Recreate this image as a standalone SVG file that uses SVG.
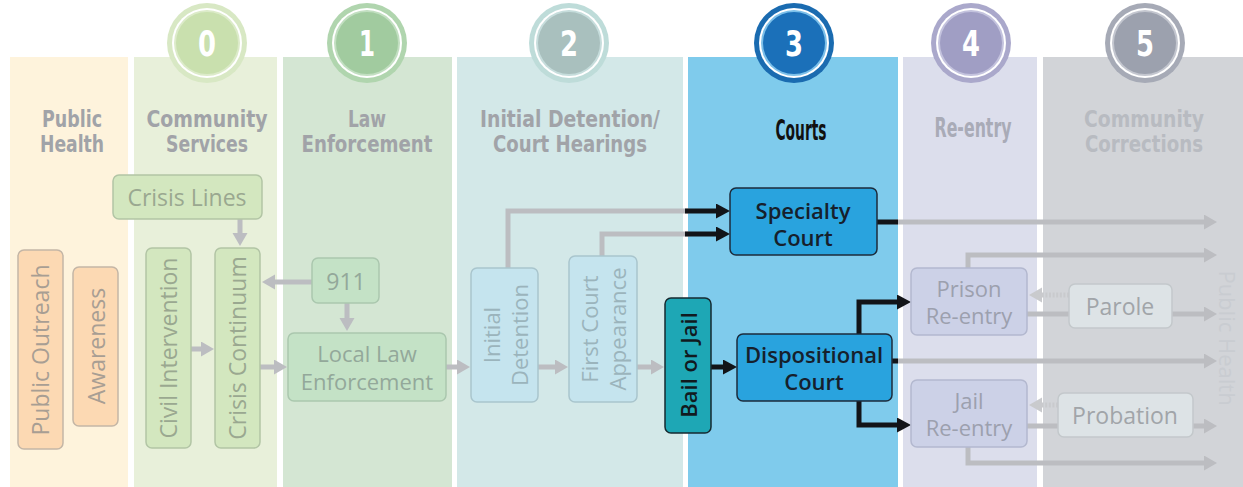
<svg xmlns="http://www.w3.org/2000/svg" width="1243" height="487" viewBox="0 0 1243 487">
<style>
.hdr{font-family:"DejaVu Sans Condensed","DejaVu Sans",sans-serif;font-weight:bold;font-size:23.5px;fill:#a1a3a8;text-anchor:middle}
.num{font-family:"DejaVu Sans Condensed","DejaVu Sans",sans-serif;font-weight:bold;font-size:35px;fill:#ffffff;text-anchor:middle}
.lbl{font-family:"Open Sans","Liberation Sans",sans-serif;font-size:22px;text-anchor:middle;dominant-baseline:central}
.dk{font-weight:600}
.n rect{stroke-width:1.5}
.g{stroke:#bcbdc1;stroke-width:5;fill:none}
.b{stroke:#121418;stroke-width:5;fill:none}
.d{stroke:#c9cacd;stroke-width:5;fill:none;stroke-dasharray:2 1.6}
</style>
<defs>
<marker id="ag" markerUnits="userSpaceOnUse" markerWidth="14" markerHeight="16" refX="5" refY="7.5" orient="auto"><path d="M0,0 L13,7.5 L0,15 z" fill="#bcbdc1"/></marker>
<marker id="ab" markerUnits="userSpaceOnUse" markerWidth="15" markerHeight="16" refX="5" refY="7.5" orient="auto"><path d="M0,0 L14,7.5 L0,15 z" fill="#121418"/></marker>
<marker id="ad" markerUnits="userSpaceOnUse" markerWidth="14" markerHeight="16" refX="5" refY="7.5" orient="auto"><path d="M0,0 L13,7.5 L0,15 z" fill="#c9cacd"/></marker>
</defs>

<g id="columns">
<rect x="10" y="57" width="118" height="430" fill="#fef3dc"/>
<rect x="134" y="57" width="143" height="430" fill="#e8f0da"/>
<rect x="283" y="57" width="169" height="430" fill="#d4e6d3"/>
<rect x="457" y="57" width="226" height="430" fill="#d3e8e8"/>
<rect x="688" y="57" width="210" height="430" fill="#7fcbec"/>
<rect x="903" y="57" width="134" height="430" fill="#dcdeec"/>
<rect x="1043" y="57" width="200" height="430" fill="#d2d4d8"/>
</g>

<g id="badges">
<g id="badge0"><circle cx="207" cy="43" r="40" fill="#d8e8c4"/><circle cx="207" cy="43" r="35" fill="#ffffff"/><circle cx="207" cy="43" r="33" fill="#dcebc9"/><circle cx="207" cy="43" r="31" fill="#c9e0ae"/><text class="num" x="207" y="56" textLength="18" lengthAdjust="spacingAndGlyphs">0</text></g>
<g id="badge1"><circle cx="367" cy="43" r="40" fill="#b0d5ae"/><circle cx="367" cy="43" r="35" fill="#ffffff"/><circle cx="367" cy="43" r="33" fill="#c2dfc1"/><circle cx="367" cy="43" r="31" fill="#a1cb9f"/><text class="num" x="367" y="56" textLength="16" lengthAdjust="spacingAndGlyphs">1</text></g>
<g id="badge2"><circle cx="569" cy="43" r="40" fill="#bedcd9"/><circle cx="569" cy="43" r="35" fill="#ffffff"/><circle cx="569" cy="43" r="33" fill="#c6dddc"/><circle cx="569" cy="43" r="31" fill="#a9c0be"/><text class="num" x="569" y="56" textLength="18" lengthAdjust="spacingAndGlyphs">2</text></g>
<g id="badge3"><circle cx="794" cy="43" r="40" fill="#1a6bb0"/><circle cx="794" cy="43" r="35" fill="#ffffff"/><circle cx="794" cy="43" r="33" fill="#7cc0ea"/><circle cx="794" cy="43" r="31" fill="#1b70b9"/><text class="num" x="794" y="56" textLength="18" lengthAdjust="spacingAndGlyphs">3</text></g>
<g id="badge4"><circle cx="971" cy="43" r="40" fill="#aaa8cb"/><circle cx="971" cy="43" r="35" fill="#ffffff"/><circle cx="971" cy="43" r="33" fill="#c4c3de"/><circle cx="971" cy="43" r="31" fill="#a09ec4"/><text class="num" x="971" y="56" textLength="18" lengthAdjust="spacingAndGlyphs">4</text></g>
<g id="badge5"><circle cx="1145" cy="43" r="40" fill="#a6aab6"/><circle cx="1145" cy="43" r="35" fill="#ffffff"/><circle cx="1145" cy="43" r="33" fill="#c3c6cf"/><circle cx="1145" cy="43" r="31" fill="#9ca1ae"/><text class="num" x="1145" y="56" textLength="18" lengthAdjust="spacingAndGlyphs">5</text></g>
</g>

<g id="headers">
<text class="hdr" x="72" y="127" textLength="60" lengthAdjust="spacingAndGlyphs">Public</text>
<text class="hdr" x="72" y="152" textLength="64" lengthAdjust="spacingAndGlyphs">Health</text>
<text class="hdr" x="207" y="127" textLength="121" lengthAdjust="spacingAndGlyphs">Community</text>
<text class="hdr" x="207" y="152" textLength="82" lengthAdjust="spacingAndGlyphs">Services</text>
<text class="hdr" x="367" y="127" textLength="38" lengthAdjust="spacingAndGlyphs">Law</text>
<text class="hdr" x="367" y="152" textLength="131" lengthAdjust="spacingAndGlyphs">Enforcement</text>
<text class="hdr" x="570" y="127" textLength="180" lengthAdjust="spacingAndGlyphs">Initial Detention/</text>
<text class="hdr" x="570" y="152" textLength="154" lengthAdjust="spacingAndGlyphs">Court Hearings</text>
<text class="hdr" x="801" y="140" textLength="51" lengthAdjust="spacingAndGlyphs" style="fill:#111111;font-size:29px">Courts</text>
<text class="hdr" x="973" y="137" textLength="77" lengthAdjust="spacingAndGlyphs" style="fill:#a9abb7;font-size:26px">Re-entry</text>
<text class="hdr" x="1144" y="127" textLength="120" lengthAdjust="spacingAndGlyphs" style="fill:#b8bbc1">Community</text>
<text class="hdr" x="1144" y="152" textLength="118" lengthAdjust="spacingAndGlyphs" style="fill:#b8bbc1">Corrections</text>
</g>

<g id="connectors">
<path class="g" d="M240,219 V238" marker-end="url(#ag)"/>
<path class="g" d="M191,349 H206" marker-end="url(#ag)"/>
<path class="g" d="M260,367 H279" marker-end="url(#ag)"/>
<path class="g" d="M312,282 H270" marker-end="url(#ag)"/>
<path class="g" d="M347,303 V323" marker-end="url(#ag)"/>
<path class="g" d="M446,367 H462" marker-end="url(#ag)"/>
<path class="g" d="M538,367 H560" marker-end="url(#ag)"/>
<path class="g" d="M637,367 H656" marker-end="url(#ag)"/>
<path class="g" d="M508,268 V211 H690"/>
<path class="b" d="M685,211 H721" marker-end="url(#ab)"/>
<path class="g" d="M602,256 V234 H690"/>
<path class="b" d="M685,234 H721" marker-end="url(#ab)"/>
<path class="g" d="M895,222 H1209" marker-end="url(#ag)"/>
<path class="b" d="M877,222 H898"/>
<path class="b" d="M711,367 H728" marker-end="url(#ab)"/>
<path class="b" d="M859,334 V302 H902" marker-end="url(#ab)"/>
<path class="b" d="M859,401 V425 H902" marker-end="url(#ab)"/>
<path class="g" d="M895,361 H1209" marker-end="url(#ag)"/>
<path class="b" d="M892,361 H898"/>
<path class="g" d="M968,268 V255 H1209" marker-end="url(#ag)"/>
<path class="g" d="M1027,314 H1069"/>
<path class="g" d="M1172,314 H1209" marker-end="url(#ag)"/>
<path class="d" d="M1069,295 H1037" marker-end="url(#ad)"/>
<path class="g" d="M1027,426 H1058"/>
<path class="g" d="M1193,426 H1209" marker-end="url(#ag)"/>
<path class="d" d="M1058,405 H1037" marker-end="url(#ad)"/>
<path class="g" d="M968,447 V463 H1209" marker-end="url(#ag)"/>
</g>

<g id="public-outreach" class="n"><rect x="18" y="250" width="45" height="199" rx="6" fill="#fcd9b3" stroke="#c4b6a6"/><text class="lbl" transform="translate(40,350) rotate(-90)" fill="#a89e93" style="font-size:23px">Public Outreach</text></g>
<g id="awareness" class="n"><rect x="73" y="267" width="45" height="159" rx="6" fill="#fcd9b3" stroke="#c4b6a6"/><text class="lbl" transform="translate(96,346) rotate(-90)" fill="#a89e93" style="font-size:23px">Awareness</text></g>
<g id="crisis-lines" class="n"><rect x="113" y="175" width="149" height="44" rx="6" fill="#d3e7bf" stroke="#b2c5a5"/><text class="lbl" x="187" y="197" fill="#9aa890" style="font-size:23px">Crisis Lines</text></g>
<g id="civil-intervention" class="n"><rect x="146" y="248" width="45" height="200" rx="6" fill="#d3e7bf" stroke="#b2c5a5"/><text class="lbl" transform="translate(168,348) rotate(-90)" fill="#9aa890" style="font-size:23px">Civil Intervention</text></g>
<g id="crisis-continuum" class="n"><rect x="215" y="248" width="45" height="200" rx="6" fill="#d3e7bf" stroke="#b2c5a5"/><text class="lbl" transform="translate(237,348) rotate(-90)" fill="#9aa890" style="font-size:23px">Crisis Continuum</text></g>
<g id="n911" class="n"><rect x="312" y="258" width="67" height="45" rx="6" fill="#c4e2c6" stroke="#aac7ae"/><text class="lbl" x="346" y="281" fill="#93a89a" style="font-size:23px">911</text></g>
<g id="local-law" class="n"><rect x="288" y="333" width="158" height="68" rx="6" fill="#c4e2c6" stroke="#aac7ae"/><text class="lbl" x="367" y="353" fill="#93a89a">Local Law</text><text class="lbl" x="367" y="381" fill="#93a89a">Enforcement</text></g>
<g id="initial-detention" class="n"><rect x="471" y="268" width="67" height="134" rx="6" fill="#c5e4ee" stroke="#a9c5cd"/><text class="lbl" transform="translate(491,335) rotate(-90)" fill="#9bb4bc">Initial</text><text class="lbl" transform="translate(519,335) rotate(-90)" fill="#9bb4bc">Detention</text></g>
<g id="first-court" class="n"><rect x="569" y="256" width="68" height="146" rx="6" fill="#c5e4ee" stroke="#a9c5cd"/><text class="lbl" transform="translate(589,329) rotate(-90)" fill="#9bb4bc">First Court</text><text class="lbl" transform="translate(617,329) rotate(-90)" fill="#9bb4bc">Appearance</text></g>
<g id="bail-or-jail" class="n"><rect x="665" y="298" width="46" height="135" rx="6" fill="#1ea7b5" stroke="#162a30"/><text class="lbl dk" transform="translate(688,365) rotate(-90)" fill="#111a1f">Bail or Jail</text></g>
<g id="specialty-court" class="n"><rect x="730" y="188" width="147" height="67" rx="6" fill="#29a3de" stroke="#1c2b3b"/><text class="lbl dk" x="803" y="210" fill="#16202c">Specialty</text><text class="lbl dk" x="803" y="237" fill="#16202c">Court</text></g>
<g id="dispositional-court" class="n"><rect x="737" y="334" width="155" height="67" rx="6" fill="#29a3de" stroke="#1c2b3b"/><text class="lbl dk" x="814" y="354" fill="#16202c">Dispositional</text><text class="lbl dk" x="814" y="381" fill="#16202c">Court</text></g>
<g id="prison-reentry" class="n"><rect x="911" y="268" width="116" height="67" rx="6" fill="#ccd1e7" stroke="#b3b8cf"/><text class="lbl" x="969" y="288" fill="#9ca0ae">Prison</text><text class="lbl" x="969" y="315" fill="#9ca0ae">Re-entry</text></g>
<g id="jail-reentry" class="n"><rect x="911" y="380" width="116" height="67" rx="6" fill="#ccd1e7" stroke="#b3b8cf"/><text class="lbl" x="969" y="400" fill="#9ca0ae">Jail</text><text class="lbl" x="969" y="427" fill="#9ca0ae">Re-entry</text></g>
<g id="parole" class="n"><rect x="1069" y="284" width="103" height="44" rx="6" fill="#dde3e6" stroke="#c3c8cb"/><text class="lbl" x="1120" y="306" fill="#a1a5a9" style="font-size:23px">Parole</text></g>
<g id="probation" class="n"><rect x="1058" y="393" width="135" height="44" rx="6" fill="#dde3e6" stroke="#c3c8cb"/><text class="lbl" x="1125" y="415" fill="#a1a5a9" style="font-size:23px">Probation</text></g>
<g id="public-health-side"><text class="lbl" transform="translate(1228,338) rotate(90)" fill="#c9ccd1">Public Health</text></g>
</svg>
